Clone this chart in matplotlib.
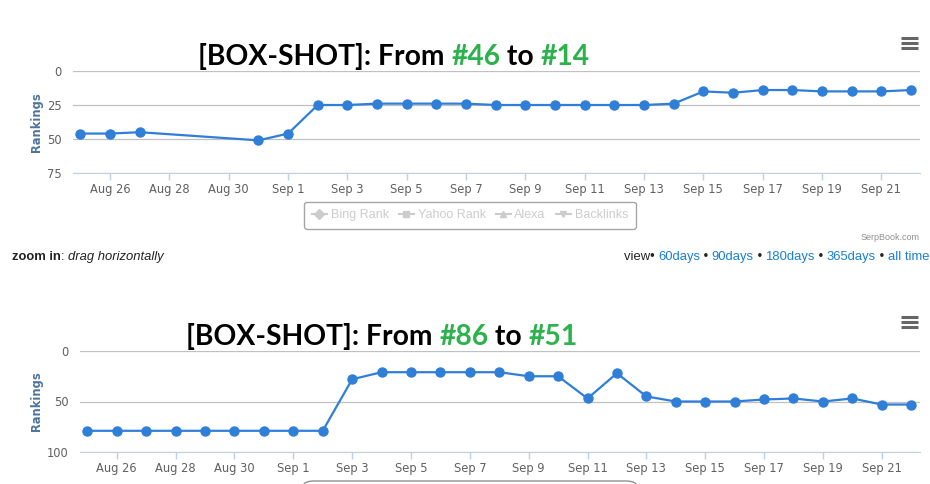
import matplotlib
matplotlib.use("Agg")
import matplotlib.pyplot as plt
import matplotlib.dates as mdates
from matplotlib.lines import Line2D
from matplotlib.patches import FancyBboxPatch
from matplotlib.text import Annotation
from matplotlib.ticker import FuncFormatter, FixedLocator
from datetime import date, timedelta

# data
top_dates = ["2013-08-25", "2013-08-26", "2013-08-27", "2013-08-31",
             "2013-09-01", "2013-09-02", "2013-09-03", "2013-09-04", "2013-09-05",
             "2013-09-06", "2013-09-07", "2013-09-08", "2013-09-09", "2013-09-10",
             "2013-09-11", "2013-09-12", "2013-09-13", "2013-09-14", "2013-09-15",
             "2013-09-16", "2013-09-17", "2013-09-18", "2013-09-19", "2013-09-20",
             "2013-09-21", "2013-09-22"]
top_ranks = [46, 46, 45, 51, 46, 25, 25, 24, 24, 24, 24, 25, 25, 25, 25, 25, 25,
             24, 15, 16, 14, 14, 15, 15, 15, 14]

bottom_dates = ["2013-08-25", "2013-08-26", "2013-08-27", "2013-08-28", "2013-08-29",
                "2013-08-30", "2013-08-31", "2013-09-01", "2013-09-02", "2013-09-03",
                "2013-09-04", "2013-09-05", "2013-09-06", "2013-09-07", "2013-09-08",
                "2013-09-09", "2013-09-10", "2013-09-11", "2013-09-12", "2013-09-13",
                "2013-09-14", "2013-09-15", "2013-09-16", "2013-09-17", "2013-09-18",
                "2013-09-19", "2013-09-20", "2013-09-21", "2013-09-22"]
bottom_ranks = [79, 79, 79, 79, 79, 79, 79, 79, 79, 28, 21, 21, 21, 21, 21, 25, 25,
                47, 22, 45, 50, 50, 50, 48, 47, 50, 47, 53, 53]

top_title = ["[BOX-SHOT]: From ", "#46", " to ", "#14"]
bottom_title = ["[BOX-SHOT]: From ", "#86", " to ", "#51"]
top_yticks = [0, 25, 50, 75]
bottom_yticks = [0, 50, 100]
legend_names = ["Bing Rank", "Yahoo Rank", "Alexa", "Backlinks"]
legend_markers = ["D", "s", "^", "v"]
view_links = ["60days", "90days", "180days", "365days", "all time"]

W, H = 930, 484
LINE = "#2f7ed8"
GREEN = "#2bb24c"
LINK = "#1a7fd4"
TXT = "#222222"


def tonum(strs):
    return [mdates.date2num(date.fromisoformat(s)) for s in strs]


def px_box(left, top, right, bottom):
    return [left / W, 1 - bottom / H, (right - left) / W, (bottom - top) / H]


def fmt_day(x, pos):
    d = mdates.num2date(x)
    return "%s %d" % (d.strftime("%b"), d.day)


fig = plt.figure(figsize=(W / 100, H / 100), dpi=100)


def make(box, dates, ranks, yticks, title, title_x, title_y, menu_y):
    ax = fig.add_axes(px_box(*box))
    ax.plot(tonum(dates), ranks, color=LINE, lw=1.6, marker="o", ms=6.5,
            mec=LINE, mfc=LINE, zorder=3, clip_on=False)
    start = mdates.date2num(date(2013, 8, 25))
    end = mdates.date2num(date(2013, 9, 22))
    ax.set_xlim(start - 0.25, end + 0.3)
    ax.set_ylim(yticks[-1], 0)
    ax.set_yticks(yticks)
    ticks = [mdates.date2num(date(2013, 8, 26) + timedelta(days=2 * i)) for i in range(14)]
    ax.xaxis.set_major_locator(FixedLocator(ticks))
    ax.xaxis.set_major_formatter(FuncFormatter(fmt_day))
    for s in ["top", "left", "right"]:
        ax.spines[s].set_visible(False)
    ax.spines["bottom"].set_color("#c0d0e0")
    ax.grid(axis="y", color="#c0c0c0", lw=0.9)
    ax.set_axisbelow(True)
    ax.tick_params(axis="x", colors="#c0d0e0", length=5, width=1, labelcolor="#606060",
                   labelsize=8.3, pad=2)
    ax.tick_params(axis="y", length=0, labelcolor="#606060", labelsize=8.3, pad=8)
    ax.set_ylabel("Rankings", color="#4d759e", fontsize=8.3, fontweight="bold")
    ax.yaxis.set_label_coords(-(box[0] - 43) / (box[2] - box[0]), 0.5)

    # title in pieces, black and green
    last = fig.text(title_x / W, 1 - title_y / H, title[0], fontsize=20.3,
                    fontweight="bold", family="Lato", color="black",
                    ha="left", va="baseline")
    for i, piece in enumerate(title[1:]):
        col = GREEN if i % 2 == 0 else "black"
        last = fig.add_artist(Annotation(piece, xy=(1, 0), xycoords=last, fontsize=20.3,
                                         fontweight="bold", family="Lato", color=col,
                                         ha="left", va="bottom"))

    # hamburger menu icon
    for dy in (-5, 0, 5):
        fig.add_artist(Line2D([901 / W, 918 / W], [1 - (menu_y + dy) / H] * 2,
                              color="#666666", lw=2.2, solid_capstyle="butt"))
    return ax


make((73, 71, 920, 173), top_dates, top_ranks, top_yticks, top_title, 198, 65, 42.5)
make((80, 351, 920, 452), bottom_dates, bottom_ranks, bottom_yticks, bottom_title, 186, 345, 322)

# inactive legend of the top chart
handles = [Line2D([], [], color="#cccccc", marker=m, ms=5, lw=1.5) for m in legend_markers]
leg = fig.legend(handles, legend_names, loc="center", ncol=4,
                 bbox_to_anchor=(470 / W, 1 - 215 / H), frameon=True, fancybox=True,
                 edgecolor="#909090", labelcolor="#cccccc", handlelength=1.2,
                 handletextpad=0.3, columnspacing=0.8, borderpad=0.6,
                 prop={"family": "Liberation Sans", "size": 9})
leg.get_frame().set_linewidth(1)

# legend box of the lower chart, cut off by the image edge
fig.add_artist(FancyBboxPatch((303 / W, -0.05), 334 / W, 1 - 481 / H + 0.05,
                              boxstyle="round,pad=0,rounding_size=0.012",
                              transform=fig.transFigure, fc="white", ec="#909090", lw=1))

fig.text(920 / W, 1 - 238 / H, "SerpBook.com", fontsize=6.5, color="#909090",
         ha="right", va="center", family="Liberation Sans")

t = fig.text(12 / W, 1 - 257 / H, "zoom in", fontsize=9.4, fontweight="bold",
             color=TXT, ha="left", va="center", family="Liberation Sans")
ann = fig.add_artist(Annotation(": ", xy=(1, 0), xycoords=t, fontsize=9.4, color=TXT,
                                ha="left", va="bottom", family="Liberation Sans"))
fig.add_artist(Annotation("drag horizontally", xy=(1, 0), xycoords=ann, fontsize=9.4,
                          style="italic", color=TXT, ha="left", va="bottom",
                          family="Liberation Sans"))

# view links, built right to left
pieces = []
for i, name in enumerate(view_links):
    pieces.append((" \u2022 " if i else "view\u2022 ", TXT))
    pieces.append((name, LINK))
pieces = pieces[::-1]
cur = fig.text(929 / W, 1 - 257 / H, pieces[0][0], fontsize=9.4, color=pieces[0][1],
               ha="right", va="center", family="Liberation Sans")
for text, col in pieces[1:]:
    cur = fig.add_artist(Annotation(text, xy=(0, 0), xycoords=cur, fontsize=9.4, color=col,
                                    ha="right", va="bottom", family="Liberation Sans"))

fig.savefig("out.png", dpi=100)
